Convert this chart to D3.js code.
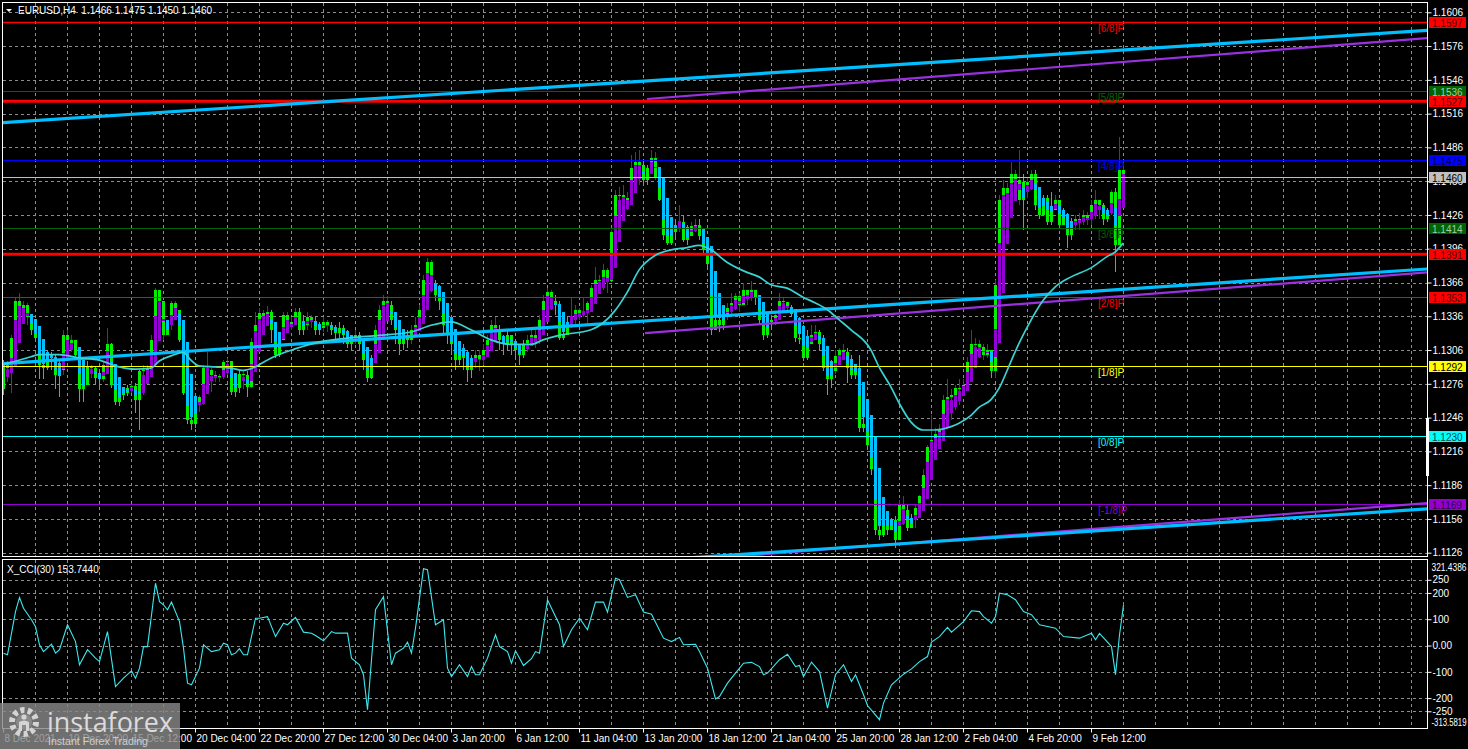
<!DOCTYPE html>
<html><head><meta charset="utf-8">
<script src="https://cdn.jsdelivr.net/npm/d3@7/dist/d3.min.js"></script>
<style>
html,body{margin:0;padding:0;background:#000;overflow:hidden}
svg{display:block}
</style></head><body>
<svg id="chart" width="1468" height="749"></svg>
<script>
const symbol = "EURUSD", timeframe = "H4";
const firstOpen = 1.1271;
const closes = [
1.1293,1.1290,1.1317,1.1350,1.1342,1.1346,1.1335,1.1324,1.1317,1.1293,
1.1290,1.1302,1.1300,1.1284,1.1288,1.1319,1.1311,1.1315,1.1302,1.1271,
1.1275,1.1292,1.1290,1.1281,1.1280,1.1293,1.1311,1.1275,1.1260,1.1266,
1.1268,1.1272,1.1274,1.1262,1.1287,1.1288,1.1290,1.1315,1.1359,1.1350,
1.1319,1.1328,1.1348,1.1342,1.1315,1.1268,1.1244,1.1240,1.1257,1.1264,
1.1290,1.1288,1.1284,1.1283,1.1282,1.1295,1.1296,1.1269,1.1272,1.1285,
1.1284,1.1273,1.1313,1.1328,1.1339,1.1335,1.1340,1.1324,1.1302,1.1315,
1.1337,1.1328,1.1331,1.1340,1.1324,1.1328,1.1335,1.1331,1.1324,1.1326,
1.1331,1.1328,1.1324,1.1321,1.1326,1.1319,1.1311,1.1315,1.1319,1.1311,
1.1297,1.1281,1.1297,1.1324,1.1342,1.1350,1.1346,1.1333,1.1324,1.1311,
1.1319,1.1315,1.1324,1.1328,1.1342,1.1368,1.1384,1.1364,1.1355,1.1350,
1.1328,1.1319,1.1311,1.1297,1.1306,1.1299,1.1288,1.1297,1.1302,1.1297,
1.1306,1.1315,1.1328,1.1324,1.1315,1.1311,1.1319,1.1311,1.1306,1.1302,
1.1311,1.1315,1.1319,1.1315,1.1333,1.1350,1.1358,1.1350,1.1346,1.1317,
1.1319,1.1331,1.1335,1.1342,1.1337,1.1340,1.1348,1.1361,1.1368,1.1367,
1.1377,1.1367,1.1411,1.1444,1.1444,1.1439,1.1441,1.1468,1.1473,1.1470,
1.1457,1.1468,1.1477,1.1459,1.1439,1.1408,1.1401,1.1411,1.1417,1.1420,
1.1404,1.1407,1.1416,1.1417,1.1407,1.1395,1.1382,1.1324,1.1333,1.1328,
1.1335,1.1343,1.1348,1.1354,1.1346,1.1359,1.1354,1.1359,1.1352,1.1333,
1.1319,1.1331,1.1333,1.1337,1.1350,1.1349,1.1344,1.1338,1.1317,1.1317,
1.1299,1.1311,1.1319,1.1322,1.1311,1.1290,1.1280,1.1287,1.1301,1.1306,
1.1304,1.1290,1.1284,1.1288,1.1237,1.1240,1.1222,1.1200,1.1146,1.1142,
1.1151,1.1146,1.1155,1.1137,1.1168,1.1164,1.1148,1.1155,1.1166,1.1176,
1.1195,1.1220,1.1226,1.1231,1.1235,1.1262,1.1264,1.1266,1.1272,1.1271,
1.1275,1.1295,1.1311,1.1311,1.1309,1.1302,1.1306,1.1287,1.1364,1.1439,
1.1450,1.1444,1.1462,1.1457,1.1439,1.1455,1.1453,1.1462,1.1435,1.1426,
1.1441,1.1420,1.1430,1.1439,1.1417,1.1426,1.1408,1.1420,1.1422,1.1422,
1.1426,1.1422,1.1435,1.1439,1.1435,1.1422,1.1428,1.1446,1.1399,1.1466,
1.1460];
const highs = [
1.1297,1.1296,1.1319,1.1352,1.1357,1.1350,1.1348,1.1337,1.1331,1.1324,
1.1311,1.1306,1.1304,1.1302,1.1297,1.1324,1.1324,1.1319,1.1315,1.1308,
1.1293,1.1296,1.1293,1.1292,1.1288,1.1296,1.1326,1.1312,1.1291,1.1275,
1.1272,1.1275,1.1277,1.1277,1.1288,1.1293,1.1293,1.1319,1.1361,1.1359,
1.1350,1.1333,1.1350,1.1350,1.1342,1.1324,1.1275,1.1266,1.1262,1.1266,
1.1293,1.1304,1.1290,1.1287,1.1285,1.1297,1.1299,1.1296,1.1284,1.1288,
1.1287,1.1287,1.1317,1.1340,1.1343,1.1342,1.1345,1.1342,1.1328,1.1321,
1.1340,1.1340,1.1335,1.1343,1.1343,1.1337,1.1340,1.1337,1.1335,1.1331,
1.1335,1.1333,1.1331,1.1328,1.1331,1.1328,1.1324,1.1319,1.1324,1.1322,
1.1315,1.1302,1.1302,1.1328,1.1346,1.1355,1.1354,1.1350,1.1337,1.1328,
1.1324,1.1324,1.1328,1.1335,1.1346,1.1373,1.1388,1.1386,1.1368,1.1364,
1.1355,1.1333,1.1324,1.1315,1.1311,1.1311,1.1306,1.1302,1.1306,1.1306,
1.1311,1.1319,1.1333,1.1335,1.1328,1.1319,1.1324,1.1319,1.1315,1.1311,
1.1315,1.1319,1.1324,1.1324,1.1337,1.1355,1.1361,1.1359,1.1355,1.1350,
1.1337,1.1335,1.1353,1.1346,1.1343,1.1352,1.1350,1.1364,1.1380,1.1373,
1.1382,1.1379,1.1413,1.1448,1.1451,1.1453,1.1446,1.1479,1.1482,1.1484,
1.1473,1.1470,1.1484,1.1482,1.1462,1.1439,1.1422,1.1420,1.1422,1.1435,
1.1426,1.1417,1.1420,1.1422,1.1422,1.1408,1.1404,1.1395,1.1368,1.1355,
1.1342,1.1348,1.1357,1.1357,1.1357,1.1366,1.1359,1.1367,1.1359,1.1355,
1.1346,1.1335,1.1337,1.1340,1.1357,1.1352,1.1349,1.1346,1.1340,1.1335,
1.1328,1.1324,1.1328,1.1328,1.1324,1.1319,1.1297,1.1297,1.1306,1.1308,
1.1311,1.1308,1.1302,1.1293,1.1302,1.1277,1.1257,1.1226,1.1202,1.1173,
1.1168,1.1160,1.1157,1.1159,1.1173,1.1176,1.1168,1.1160,1.1168,1.1177,
1.1200,1.1222,1.1248,1.1237,1.1240,1.1266,1.1280,1.1271,1.1275,1.1280,
1.1280,1.1300,1.1324,1.1317,1.1315,1.1311,1.1311,1.1306,1.1368,1.1444,
1.1457,1.1454,1.1473,1.1466,1.1484,1.1462,1.1459,1.1466,1.1466,1.1444,
1.1444,1.1444,1.1446,1.1444,1.1439,1.1432,1.1428,1.1423,1.1426,1.1428,
1.1430,1.1429,1.1439,1.1448,1.1439,1.1437,1.1432,1.1448,1.1450,1.1495,
1.1475];
const lows = [
1.1266,1.1278,1.1268,1.1311,1.1333,1.1335,1.1328,1.1319,1.1314,1.1280,
1.1280,1.1288,1.1288,1.1271,1.1264,1.1284,1.1306,1.1304,1.1299,1.1260,
1.1260,1.1275,1.1281,1.1275,1.1272,1.1278,1.1290,1.1272,1.1257,1.1256,
1.1262,1.1265,1.1268,1.1250,1.1235,1.1266,1.1281,1.1287,1.1311,1.1328,
1.1315,1.1319,1.1324,1.1333,1.1313,1.1266,1.1240,1.1235,1.1237,1.1251,
1.1257,1.1280,1.1269,1.1278,1.1278,1.1280,1.1284,1.1266,1.1264,1.1268,
1.1271,1.1264,1.1272,1.1311,1.1324,1.1328,1.1331,1.1312,1.1299,1.1300,
1.1315,1.1324,1.1324,1.1328,1.1319,1.1319,1.1324,1.1326,1.1319,1.1319,
1.1322,1.1322,1.1319,1.1315,1.1317,1.1311,1.1308,1.1306,1.1311,1.1306,
1.1288,1.1278,1.1280,1.1296,1.1319,1.1337,1.1340,1.1328,1.1311,1.1302,
1.1306,1.1308,1.1311,1.1319,1.1324,1.1337,1.1359,1.1358,1.1350,1.1342,
1.1319,1.1311,1.1302,1.1288,1.1293,1.1288,1.1278,1.1281,1.1290,1.1287,
1.1293,1.1302,1.1311,1.1315,1.1306,1.1302,1.1306,1.1302,1.1299,1.1293,
1.1299,1.1304,1.1311,1.1308,1.1311,1.1328,1.1346,1.1342,1.1337,1.1315,
1.1315,1.1319,1.1326,1.1328,1.1333,1.1335,1.1328,1.1340,1.1350,1.1358,
1.1359,1.1357,1.1367,1.1399,1.1417,1.1430,1.1430,1.1439,1.1457,1.1453,
1.1453,1.1453,1.1462,1.1457,1.1438,1.1404,1.1399,1.1399,1.1404,1.1411,
1.1402,1.1399,1.1407,1.1411,1.1404,1.1390,1.1377,1.1319,1.1324,1.1322,
1.1324,1.1333,1.1337,1.1342,1.1340,1.1346,1.1346,1.1350,1.1346,1.1328,
1.1315,1.1317,1.1324,1.1328,1.1337,1.1340,1.1339,1.1335,1.1313,1.1311,
1.1296,1.1297,1.1311,1.1315,1.1306,1.1287,1.1266,1.1272,1.1285,1.1293,
1.1297,1.1277,1.1280,1.1280,1.1233,1.1233,1.1219,1.1195,1.1142,1.1137,
1.1140,1.1142,1.1146,1.1130,1.1137,1.1151,1.1145,1.1148,1.1148,1.1160,
1.1164,1.1191,1.1208,1.1217,1.1226,1.1233,1.1244,1.1244,1.1253,1.1257,
1.1269,1.1275,1.1280,1.1297,1.1299,1.1297,1.1299,1.1281,1.1281,1.1359,
1.1430,1.1435,1.1439,1.1446,1.1435,1.1413,1.1441,1.1448,1.1430,1.1422,
1.1430,1.1417,1.1417,1.1430,1.1414,1.1417,1.1397,1.1404,1.1413,1.1413,
1.1417,1.1417,1.1417,1.1422,1.1422,1.1417,1.1420,1.1426,1.1375,1.1399,
1.1450];
// moving average read at sample bars: [bar, value]
const maPoints = [
[0,1.1293],[7,1.1300],[9,1.1302],[14,1.1302],[19,1.1299],[24,1.1297],[29,1.1291],[33,1.1289],[37,1.1290],[39,1.1296],
[43,1.1302],[45,1.1304],[47,1.1297],[49,1.1292],[53,1.1291],[57,1.1290],[60,1.1288],[63,1.1291],[65,1.1295],[69,1.1302],
[73,1.1307],[79,1.1313],[87,1.1317],[94,1.1319],[102,1.1322],[107,1.1328],[112,1.1331],[117,1.1324],[122,1.1315],[127,1.1311],
[132,1.1311],[135,1.1315],[139,1.1319],[147,1.1324],[150,1.1330],[153,1.1341],[156,1.1357],[159,1.1377],[163,1.1390],[167,1.1395],
[171,1.1397],[174,1.1399],[177,1.1395],[181,1.1384],[186,1.1375],[189,1.1371],[192,1.1364],[196,1.1361],[200,1.1353],[203,1.1348],
[206,1.1342],[209,1.1333],[212,1.1324],[217,1.1306],[219,1.1291],[222,1.1273],[224,1.1259],[227,1.1242],[230,1.1235],[233,1.1235],
[237,1.1238],[239,1.1241],[242,1.1248],[244,1.1255],[247,1.1262],[249,1.1272],[252,1.1296],[254,1.1312],[256,1.1326],[260,1.1350],
[263,1.1362],[267,1.1371],[272,1.1379],[276,1.1389],[278,1.1393],[280,1.1401]];
const cciPeriod = 30;
// CCI read at bars: [bar, value]
const cciPoints = [
[0,-29],[1,-35],[3,129],[4,183],[5,142],[7,98],[8,72],[9,3],[10,-23],[12,5],[13,-29],[14,-16],[16,79],[18,15],[19,-73],
[21,-16],[23,-48],[24,-61],[26,53],[28,-156],[30,-124],[32,-96],[33,-124],[34,-86],[35,-4],[36,-4],[38,237],[39,167],[40,155],
[41,136],[42,165],[44,91],[45,-10],[46,-143],[47,-149],[49,-86],[50,3],[52,-23],[54,-16],[55,9],[56,3],[57,-35],[58,-29],
[59,-12],[60,-35],[61,-35],[63,104],[64,104],[66,110],[68,34],[70,85],[71,79],[73,107],[75,51],[77,47],[78,38],[80,18],
[82,53],[83,47],[86,47],[87,-48],[89,-73],[90,-111],[91,-244],[93,136],[95,186],[97,-73],[98,-29],[100,-10],[101,13],[102,-29],
[103,66],[105,292],[106,288],[108,79],[110,98],[111,-86],[112,-118],[114,-73],[116,-118],[117,-80],[118,-111],[119,-111],[121,-48],
[123,41],[124,-4],[126,-23],[127,-67],[128,-20],[130,-76],[132,-50],[133,-23],[134,-29],[136,174],[137,142],[139,79],[140,-4],
[142,60],[144,104],[146,60],[148,165],[150,165],[151,127],[153,256],[154,250],[156,183],[158,193],[160,127],[162,119],[165,28],
[167,15],[169,31],[170,3],[173,5],[174,-23],[176,-86],[178,-203],[179,-194],[181,-143],[183,-105],[185,-67],[187,-64],[189,-80],
[190,-111],[191,-105],[194,-54],[196,-33],[198,-80],[199,-76],[200,-118],[202,-63],[204,-99],[206,-238],[208,-111],[210,-73],
[212,-137],[213,-111],[215,-187],[216,-228],[219,-282],[220,-219],[222,-149],[225,-109],[227,-89],[229,-61],[231,-42],[232,13],
[234,34],[236,69],[237,51],[240,91],[242,132],[244,129],[245,110],[247,85],[248,110],[249,199],[251,193],[253,174],[255,129],
[257,117],[259,79],[263,66],[265,34],[269,28],[272,47],[273,22],[274,46],[277,-4],[278,-111],[279,40],[280,153.7440]];
const priceTicks = [1.1606,1.1576,1.1546,1.1516,1.1486,1.1456,1.1426,1.1396,1.1366,1.1336,1.1306,1.1276,1.1246,1.1216,1.1186,1.1156,1.1126];
const cciTicks = [321.4386,250,200,100,0,-100,-200,-250,-313.5819];
const cciGridTicks = [250,200,100,0,-100,-200,-250];
const timeTickBars = [0,16,32,48,64,80,96,112,128,144,160,176,192,208,224,240,256,272];
const timeLabels = ["8 Dec 2021","10 Dec 20:00","15 Dec 12:00","20 Dec 04:00","22 Dec 20:00","27 Dec 12:00","30 Dec 04:00","3 Jan 20:00","6 Jan 12:00","11 Jan 04:00","13 Jan 20:00","18 Jan 12:00","21 Jan 04:00","25 Jan 20:00","28 Jan 12:00","2 Feb 04:00","4 Feb 20:00","9 Feb 12:00"];
const levelPrices = [1.1597,1.1536,1.1527,1.1475,1.1460,1.1414,1.1391,1.1353,1.1292,1.1230,1.1169];
const levelTags = ["[6/8]P","[5/8]P","","[4/8]P","","[3/8]P","","[2/8]P","[1/8]P","[0/8]P","[-1/8]P"];
// trend channels: [bar0, price0, bar1, price1, startBar]
const cyanChannels = [[0,1.1508,356,1.1590,-2],[0,1.1294,356,1.1378,-2],[174,1.1122,356,1.1165,-2]];
const purpleChannels = [[161,1.1529,356,1.1583,161],[160.5,1.1321,356,1.1375,160.5],[199,1.1127,356,1.1170,160.5]];

// ---------- styles ----------
const levelColors = ["#ff0000","#006400","#ff0000","#0000ff","#c0c0c0","#006400","#ff0000","#ff0000","#ffff00","#00ffff","#9400d3"];
const levelWidths = [1.3,1,3,1,1,1,3,1,1,1,1];
const levelBoxText = ["#500000","#a8c8a8","#500000","#000050","#000000","#a8c8a8","#500000","#500000","#000000","#004848","#2a0040"];
const FONT = "'Liberation Sans', Arial, sans-serif";
const BULL = "#9400d3", BEAR = "#00bfff", LIME = "#00f000";

const svg = d3.select("#chart");
const Lx = 2.5, Rx = 1427.5, Ty = 2.5, MBy = 556.5, CTy = 559.5, CBy = 728.5;
const n = closes.length;
const x = d3.scaleLinear().domain([0, n - 1]).range([3, 3 + 4 * (n - 1)]);
const y = d3.scaleLinear().domain([1.1126, 1.1606]).range([552.7, 12.3]);
const yc = d3.scaleLinear().domain([-313.5819, 321.4386]).range([728, 561]);

svg.append("rect").attr("width", 1468).attr("height", 749).attr("fill", "#000");
const defs = svg.append("defs");
defs.append("clipPath").attr("id", "cm").append("rect").attr("x", 3).attr("y", 3).attr("width", 1424).attr("height", 553);
defs.append("clipPath").attr("id", "cc").append("rect").attr("x", 3).attr("y", 560).attr("width", 1424).attr("height", 168);

const gridColor = "#8c8c8c";
const vBars = d3.range(8, 400, 8).filter(b => x(b) < 1426);

// main panel
const gm = svg.append("g").attr("clip-path", "url(#cm)");
gm.append("g").selectAll("line").data(priceTicks).join("line")
  .attr("x1", Lx).attr("x2", Rx)
  .attr("y1", d => Math.round(y(d)) + 0.5).attr("y2", d => Math.round(y(d)) + 0.5)
  .attr("stroke", gridColor).attr("stroke-dasharray", "3,3").attr("shape-rendering", "crispEdges");
gm.append("g").selectAll("line").data(vBars).join("line")
  .attr("x1", d => x(d) + 0.5).attr("x2", d => x(d) + 0.5).attr("y1", Ty).attr("y2", MBy)
  .attr("stroke", gridColor).attr("stroke-dasharray", "3,3").attr("shape-rendering", "crispEdges");

// candles + heiken ashi
const opens = closes.map((c, i) => i ? closes[i - 1] : firstOpen);
let pO, pC;
const ha = closes.map((c, i) => {
  const o = opens[i], h = highs[i], l = lows[i];
  const hc = (o + h + l + c) / 4;
  const ho = i === 0 ? (o + c) / 2 : (pO + pC) / 2;
  pO = ho; pC = hc;
  return { i, o: ho, c: hc, h: Math.max(h, ho, hc), l: Math.min(l, ho, hc), ro: o, rc: c };
});
const py = v => Math.round(y(v));
const gc = gm.append("g").attr("shape-rendering", "crispEdges");
gc.selectAll(".wk").data(ha).join("rect")
  .attr("x", d => x(d.i)).attr("width", 1)
  .attr("y", d => py(d.h)).attr("height", d => Math.max(1, py(d.l) - py(d.h)))
  .attr("fill", d => d.c >= d.o ? BULL : BEAR);
gc.selectAll(".rb").data(ha).join("rect")
  .attr("x", d => x(d.i) - 1).attr("width", 3)
  .attr("y", d => py(Math.max(d.ro, d.rc))).attr("height", d => Math.max(1, py(Math.min(d.ro, d.rc)) - py(Math.max(d.ro, d.rc))))
  .attr("fill", LIME);
gc.selectAll(".hb").data(ha).join("rect")
  .attr("x", d => x(d.i) - 1).attr("width", 3)
  .attr("y", d => py(Math.max(d.o, d.c))).attr("height", d => Math.max(1, py(Math.min(d.o, d.c)) - py(Math.max(d.o, d.c))))
  .attr("fill", d => d.c >= d.o ? BULL : BEAR);

// level lines
gm.append("g").selectAll("line").data(levelPrices).join("line")
  .attr("x1", Lx).attr("x2", Rx)
  .attr("y1", (d, i) => levelWidths[i] >= 2 ? y(d) : Math.round(y(d)) + 0.5)
  .attr("y2", (d, i) => levelWidths[i] >= 2 ? y(d) : Math.round(y(d)) + 0.5)
  .attr("stroke", (d, i) => levelColors[i]).attr("stroke-width", (d, i) => levelWidths[i]);

// channels
function chanLine(c) {
  const [b0, p0, b1, p1, s] = c;
  const pAt = b => p0 + (p1 - p0) * (b - b0) / (b1 - b0);
  return [[x(s), y(pAt(s))], [x(362), y(pAt(362))]];
}
gm.append("g").selectAll("path").data(purpleChannels).join("path")
  .attr("d", c => d3.line()(chanLine(c))).attr("stroke", "#9a30e0").attr("stroke-width", 2.2).attr("fill", "none");
gm.append("g").selectAll("path").data(cyanChannels).join("path")
  .attr("d", c => d3.line()(chanLine(c))).attr("stroke", "#00bfff").attr("stroke-width", 3.2).attr("fill", "none");

// moving average
gm.append("path").datum(maPoints)
  .attr("d", d3.line().x(d => x(d[0])).y(d => y(d[1])).curve(d3.curveMonotoneX))
  .attr("fill", "none").attr("stroke", "#3cd2d2").attr("stroke-width", 1.7);

// level tags
gm.append("g").selectAll("text").data(levelPrices).join("text")
  .attr("x", x(274) - 1).attr("y", d => Math.round(y(d)) + 10)
  .attr("fill", (d, i) => levelColors[i]).attr("font-family", FONT).attr("font-size", 10)
  .text((d, i) => levelTags[i]);

// CCI panel
const gci = svg.append("g").attr("clip-path", "url(#cc)");
gci.append("g").selectAll("line").data(cciGridTicks).join("line")
  .attr("x1", Lx).attr("x2", Rx)
  .attr("y1", d => Math.round(yc(d)) + 0.5).attr("y2", d => Math.round(yc(d)) + 0.5)
  .attr("stroke", gridColor).attr("stroke-dasharray", "3,3").attr("shape-rendering", "crispEdges");
gci.append("g").selectAll("line").data(vBars).join("line")
  .attr("x1", d => x(d) + 0.5).attr("x2", d => x(d) + 0.5).attr("y1", CTy).attr("y2", CBy)
  .attr("stroke", gridColor).attr("stroke-dasharray", "3,3").attr("shape-rendering", "crispEdges");
gci.append("path").datum(cciPoints)
  .attr("d", d3.line().x(d => x(d[0]) + 0.5).y(d => yc(d[1])))
  .attr("fill", "none").attr("stroke", "#3ee8ee").attr("stroke-width", 1.1);

// borders
const border = svg.append("g").attr("fill", "none").attr("stroke", "#fff").attr("shape-rendering", "crispEdges");
border.append("rect").attr("x", Lx).attr("y", Ty).attr("width", Rx - Lx).attr("height", MBy - Ty);
border.append("rect").attr("x", Lx).attr("y", CTy).attr("width", Rx - Lx).attr("height", CBy - CTy);
svg.append("rect").attr("x", 1426).attr("y", 418).attr("width", 3).attr("height", 58).attr("fill", "#fff");

// price axis
const pa = svg.append("g").attr("transform", `translate(${Rx},0)`)
  .call(d3.axisRight(y).tickValues(priceTicks).tickFormat(d3.format(".4f")).tickSize(4).tickPadding(1));
pa.attr("font-family", FONT).attr("font-size", 10);
pa.select(".domain").remove();
pa.selectAll("line").attr("stroke", "#fff");
pa.selectAll("text").attr("fill", "#fff");

// level boxes
const lb = svg.append("g");
lb.selectAll("rect").data(levelPrices).join("rect")
  .attr("x", 1429).attr("y", d => Math.round(y(d)) - 5).attr("width", 37).attr("height", 11)
  .attr("fill", (d, i) => levelColors[i]);
lb.selectAll("text").data(levelPrices).join("text")
  .attr("x", 1432).attr("y", d => Math.round(y(d)) + 4.5)
  .attr("font-family", FONT).attr("font-size", 10)
  .attr("fill", (d, i) => levelBoxText[i]).text(d => d3.format(".4f")(d));

// CCI axis
const ca = svg.append("g").attr("transform", `translate(${Rx},0)`)
  .call(d3.axisRight(yc).tickValues(cciTicks)
    .tickFormat(d => d === 0 ? "0.00" : (Number.isInteger(d) ? String(d) : d.toFixed(4))).tickSize(4).tickPadding(1));
ca.attr("font-family", FONT).attr("font-size", 10);
ca.select(".domain").remove();
ca.selectAll("line").attr("stroke", "#fff");
ca.selectAll("text").attr("fill", "#fff");
const edgeTicks = ca.selectAll(".tick").filter(d => d === cciTicks[0] || d === cciTicks[cciTicks.length - 1]);
edgeTicks.select("line").remove();
edgeTicks.select("text").attr("x", 4).attr("textLength", 35).attr("lengthAdjust", "spacingAndGlyphs");
ca.selectAll(".tick").filter(d => d === cciTicks[0]).select("text").attr("dy", "0.95em");
ca.selectAll(".tick").filter(d => d === cciTicks[cciTicks.length - 1]).select("text").attr("dy", "-0.3em");

// time axis
const ta = svg.append("g").attr("transform", `translate(0,${CBy})`)
  .call(d3.axisBottom(x).tickValues(timeTickBars).tickFormat((d, i) => timeLabels[i]).tickSize(4).tickPadding(2));
ta.attr("font-family", FONT).attr("font-size", 10);
ta.select(".domain").remove();
ta.selectAll("line").attr("stroke", "#fff");
ta.selectAll("text").attr("fill", "#fff").attr("text-anchor", "start").attr("x", 1);

// header
const last = n - 1, f4 = d3.format(".4f");
svg.append("path").attr("d", "M6,9 L12,9 L9,12 Z").attr("fill", "#fff");
svg.append("text").attr("x", 18).attr("y", 13.5).attr("fill", "#fff").attr("font-family", FONT).attr("font-size", 10)
  .style("white-space", "pre")
  .text(`${symbol},${timeframe}  ${f4(opens[last])} ${f4(highs[last])} ${f4(lows[last])} ${f4(closes[last])}`);
svg.append("text").attr("x", 7).attr("y", 573).attr("fill", "#fff").attr("font-family", FONT).attr("font-size", 10)
  .text(`X_CCI(${cciPeriod}) ${cciPoints[cciPoints.length - 1][1].toFixed(4)}`);

// logo
const lg = svg.append("g");
lg.append("rect").attr("x", 0).attr("y", 703).attr("width", 180).attr("height", 46).attr("fill", "rgba(135,135,135,0.82)");
lg.append("circle").attr("cx", 24).attr("cy", 722).attr("r", 12).attr("fill", "none")
  .attr("stroke", "#d4d4d4").attr("stroke-width", 6).attr("stroke-dasharray", "4.2,3.3");
lg.append("circle").attr("cx", 24).attr("cy", 722).attr("r", 8).attr("fill", "#8a8a8a");
lg.append("circle").attr("cx", 24).attr("cy", 717).attr("r", 2.6).attr("fill", "#d4d4d4");
lg.append("path").attr("d", "M19,731 L19,722 Q24,719 29,722 L29,731 L26,731 L26,725 L22,725 L22,731 Z").attr("fill", "#d4d4d4");
lg.append("text").attr("x", 47).attr("y", 732).attr("fill", "#dcdcdc").attr("font-family", "'Open Sans', Arial, sans-serif")
  .attr("font-size", 27).attr("textLength", 126).attr("lengthAdjust", "spacingAndGlyphs").text("instaforex");
lg.append("text").attr("x", 48).attr("y", 745).attr("fill", "#d0d0d0").attr("font-family", FONT)
  .attr("font-size", 11).attr("textLength", 100).attr("lengthAdjust", "spacingAndGlyphs").text("Instant Forex Trading");
</script>
</body></html>
